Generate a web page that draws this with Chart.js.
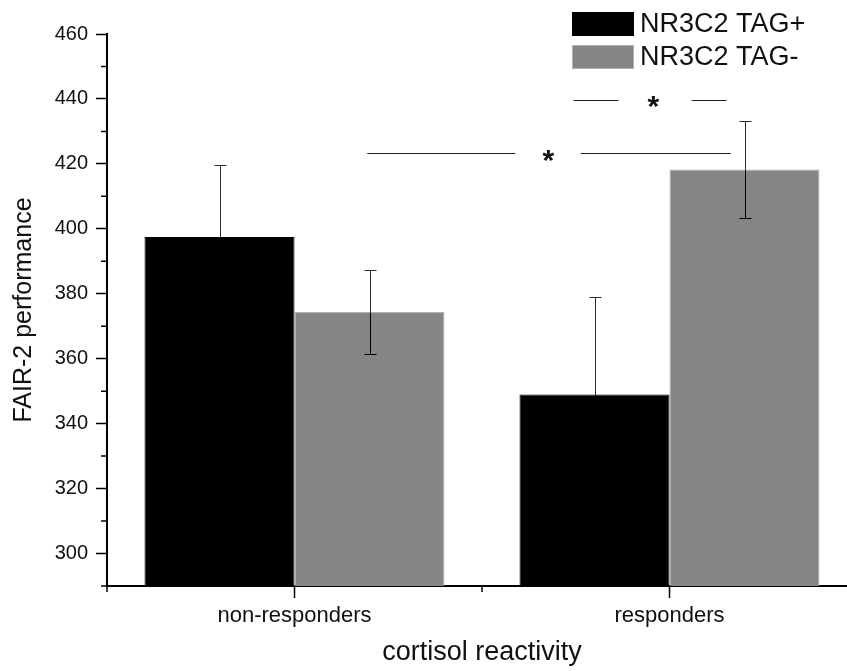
<!DOCTYPE html>
<html>
<head>
<meta charset="utf-8">
<script src="https://cdn.jsdelivr.net/npm/chart.js@4.4.1/dist/chart.umd.min.js"></script>
<style>
  html, body { margin: 0; padding: 0; background: #fff; overflow: hidden; }
  #wrap { width: 880px; height: 671px; }
</style>
</head>
<body>
<div id="wrap"><canvas id="chart" width="880" height="671"></canvas></div>
<script>
const categories = ["non-responders", "responders"];
const seriesNames = ["NR3C2 TAG+", "NR3C2 TAG-"];
const tagPlus = [397.5, 349.0];
const tagMinus = [374.4, 418.3];
const tagPlusErr = [22.3, 30.0];
const tagMinusErr = [13.0, 15.0];
const yTicks = [300, 320, 340, 360, 380, 400, 420, 440, 460];

// significance markers: x in category units, y in data units
const sigMarks = [
  { y: 423.2, segs: [[0.194, 0.589], [0.763, 1.163]], star: [0.677, 422.5] },
  { y: 439.8, segs: [[0.744, 0.864], [1.059, 1.152]], star: [0.957, 439.2] }
];

const FONT = "'Liberation Sans', Arial, sans-serif";
Chart.defaults.font.family = FONT;

function catX(xs, v) {
  const p0 = xs.getPixelForValue(0), p1 = xs.getPixelForValue(1);
  return p0 + v * (p1 - p0);
}

// error bars: part above the bar dark grey, part inside the bar black
const errorBars = {
  id: "errorBars",
  afterDatasetsDraw(chart) {
    const ctx = chart.ctx, ys = chart.scales.y;
    ctx.save();
    ctx.lineWidth = 1;
    chart.data.datasets.forEach((ds, i) => {
      chart.getDatasetMeta(i).data.forEach((bar, j) => {
        const v = ds.data[j], e = ds.errors[j];
        const top = Math.round(ys.getPixelForValue(v + e)) + 0.5;
        const mid = Math.round(ys.getPixelForValue(v)) + 0.5;
        const bot = Math.round(ys.getPixelForValue(v - e)) + 0.5;
        const x = Math.round(bar.x) + 0.5;
        ctx.strokeStyle = "#2a2a2a";
        ctx.beginPath();
        ctx.moveTo(x, top); ctx.lineTo(x, mid);
        ctx.moveTo(x - 6, top); ctx.lineTo(x + 6, top);
        ctx.stroke();
        ctx.strokeStyle = "#000";
        ctx.beginPath();
        ctx.moveTo(x, mid); ctx.lineTo(x, bot);
        ctx.moveTo(x - 6, bot); ctx.lineTo(x + 6, bot);
        ctx.stroke();
      });
    });
    ctx.restore();
  }
};

// significance lines and asterisks, minor ticks, legend
const extras = {
  id: "extras",
  afterDraw(chart) {
    const ctx = chart.ctx, xs = chart.scales.x, ys = chart.scales.y;
    const area = chart.chartArea;
    ctx.save();

    // minor ticks
    ctx.strokeStyle = "#000";
    ctx.lineWidth = 1.5;
    ctx.beginPath();
    for (let v = ys.min; v <= ys.max; v += 10) {
      if (yTicks.includes(v)) continue;
      const y = ys.getPixelForValue(v);
      ctx.moveTo(area.left - 6, y); ctx.lineTo(area.left, y);
    }
    for (let k = -0.5; k <= categories.length - 0.5; k += 1) {
      const x = catX(xs, k);
      ctx.moveTo(x, area.bottom); ctx.lineTo(x, area.bottom + 6);
    }
    ctx.stroke();

    // significance
    ctx.strokeStyle = "#222";
    ctx.lineWidth = 1.2;
    ctx.fillStyle = "#111";
    ctx.font = "bold 30px " + FONT;
    sigMarks.forEach(m => {
      const y = Math.round(ys.getPixelForValue(m.y)) + 0.5;
      ctx.beginPath();
      m.segs.forEach(s => { ctx.moveTo(catX(xs, s[0]), y); ctx.lineTo(catX(xs, s[1]), y); });
      ctx.stroke();
      const mt = ctx.measureText("*");
      const cx = catX(xs, m.star[0]), cy = ys.getPixelForValue(m.star[1]);
      ctx.textAlign = "center";
      ctx.textBaseline = "alphabetic";
      ctx.fillText("*", cx, cy + (mt.actualBoundingBoxAscent - mt.actualBoundingBoxDescent) / 2);
    });

    // legend
    const lx = 572, ly = [12, 45], bw = 62, bh = 24;
    ctx.font = "27px " + FONT;
    ctx.textAlign = "left";
    ctx.textBaseline = "middle";
    chart.data.datasets.forEach((ds, i) => {
      ctx.fillStyle = ds.backgroundColor;
      ctx.fillRect(lx, ly[i], bw, bh);
      ctx.strokeStyle = ds.borderColor;
      ctx.lineWidth = 1;
      ctx.strokeRect(lx + 0.5, ly[i] + 0.5, bw - 1, bh - 1);
      ctx.fillStyle = "#111";
      ctx.fillText(ds.label, lx + bw + 6, ly[i] + bh / 2 + 1);
    });
    ctx.restore();
  }
};

const ctx = document.getElementById("chart").getContext("2d");
new Chart(ctx, {
  type: "bar",
  data: {
    labels: categories,
    datasets: [
      { label: seriesNames[0], data: tagPlus, errors: tagPlusErr,
        backgroundColor: "#000000", borderColor: "#000000", borderWidth: 1 },
      { label: seriesNames[1], data: tagMinus, errors: tagMinusErr,
        backgroundColor: "#858585", borderColor: "#b0b0b0", borderWidth: 1 }
    ]
  },
  options: {
    responsive: false,
    animation: false,
    layout: { padding: { top: 34, right: 23, left: 0, bottom: 0 } },
    datasets: { bar: { barPercentage: 1.0, categoryPercentage: 0.8 } },
    plugins: { legend: { display: false }, tooltip: { enabled: false } },
    scales: {
      x: {
        offset: true,
        grid: { drawOnChartArea: false, offset: false, tickLength: 12, tickColor: "#000", tickWidth: 1.5 },
        border: { color: "#000", width: 2 },
        ticks: { font: { size: 22 }, color: "#111", padding: 5 },
        title: { display: true, text: "cortisol reactivity", font: { size: 27 }, color: "#111", padding: { top: 4, bottom: 2 } },
        afterFit: s => { s.height = 85; }
      },
      y: {
        min: 290,
        max: 460,
        ticks: {
          stepSize: 10,
          autoSkip: false,
          callback: v => yTicks.includes(v) ? v : "",
          font: { size: 20 }, color: "#111", padding: 8
        },
        grid: {
          drawOnChartArea: false, tickLength: 11, tickWidth: 1.5,
          tickColor: c => (c.tick && yTicks.includes(c.tick.value)) ? "#000" : "rgba(0,0,0,0)"
        },
        border: { color: "#000", width: 2 },
        title: { display: true, text: "FAIR-2 performance", font: { size: 25 }, color: "#111", padding: { top: 9, bottom: 0 } },
        afterFit: s => { s.width = 107; }
      }
    }
  },
  plugins: [errorBars, extras]
});
</script>
</body>
</html>
